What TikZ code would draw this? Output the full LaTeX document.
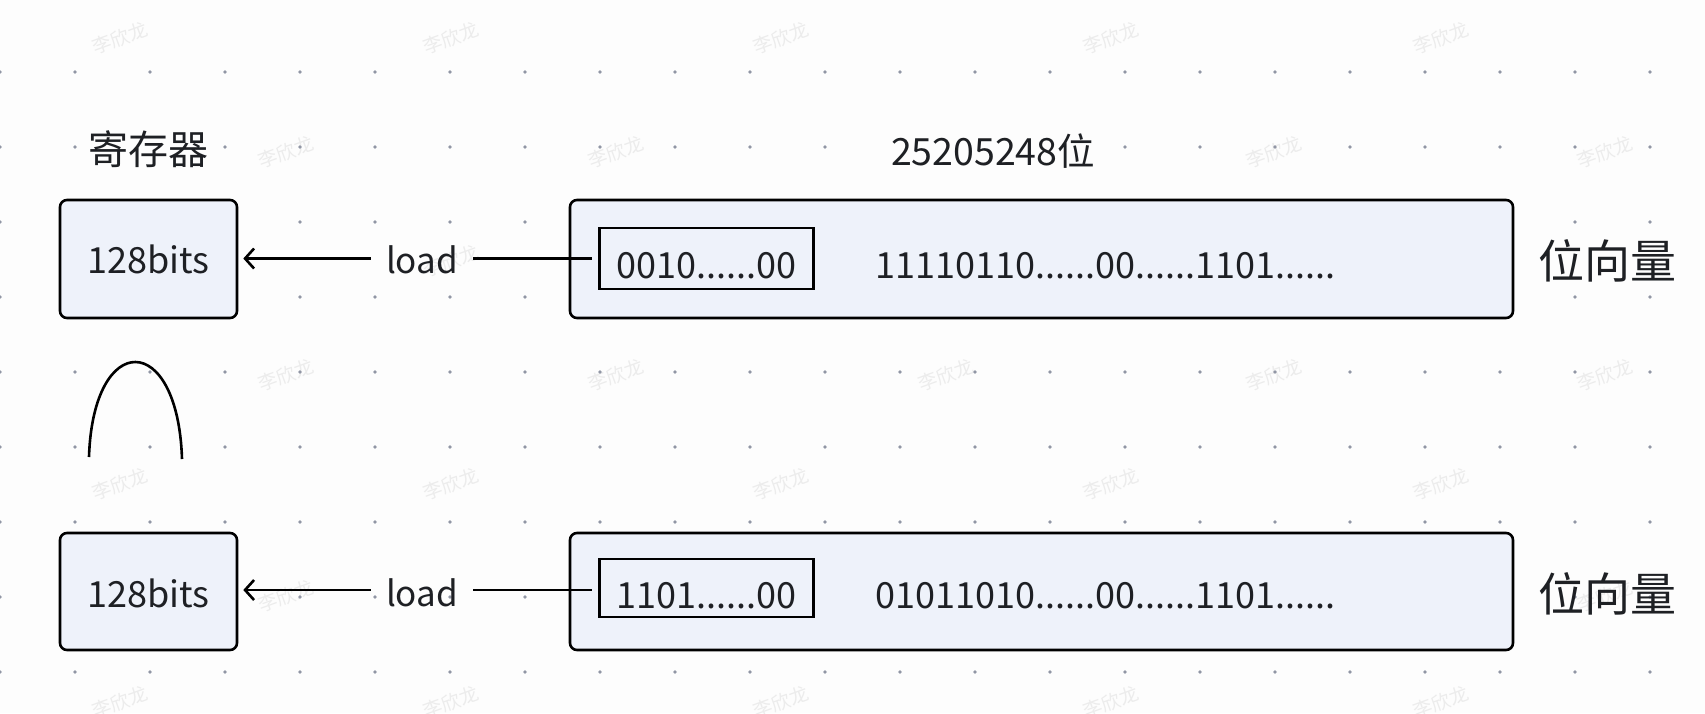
\documentclass[tikz,border=0pt]{standalone}
\usepackage{fontspec}
\setmainfont{Noto Sans CJK SC}
\usetikzlibrary{arrows.meta}
\definecolor{boxfill}{RGB}{238,242,250}
\definecolor{dotc}{RGB}{145,150,165}
\definecolor{wmc}{RGB}{236,236,236}
\definecolor{txt}{RGB}{30,32,36}
\definecolor{bg}{RGB}{253,253,253}
\begin{document}
\begin{tikzpicture}[x=1pt,y=-1pt,
  regbox/.style={draw=black, line width=2.6pt, fill=boxfill, rounded corners=7pt,
    minimum width=177pt, minimum height=117pt, inner sep=0pt},
  vecbox/.style={draw=black, line width=2.6pt, fill=boxfill, rounded corners=7pt,
    minimum width=943pt, minimum height=117pt, inner sep=0pt},
  segbox/.style={draw=black, line width=2.4pt, minimum width=214pt, inner sep=0pt},
  boxtext/.style={font=\fontsize{36}{40}\selectfont, text=txt, inner sep=0pt, anchor=base},
  bitstext/.style={font=\fontsize{36}{40}\selectfont, text=txt, inner sep=0pt, anchor=base west},
  loadlbl/.style={font=\fontsize{35}{40}\selectfont, text=txt, inner xsep=15pt, inner ysep=0pt, anchor=base},
  sidelbl/.style={font=\fontsize{46}{50}\selectfont, text=txt, inner sep=0pt},
  titlelbl/.style={text=txt, fill=bg, inner sep=4pt},
  conn/.style={line width=2.6pt, draw=black},
  wmark/.style={font=\fontsize{19}{20}\selectfont, text=wmc, rotate=20, inner sep=0pt}
]
\useasboundingbox (0,0) rectangle (1705,713);
\fill[bg] (0,0) rectangle (1705,713);

% watermarks
\foreach \yy [count=\r] in {38,152,261,375,484,596,702} {
  \ifodd\r
    \foreach \xx [count=\c] in {120,451,781,1111,1441} { \node[wmark] (wmA-\r-\c) at (\xx,\yy) {李欣龙}; }
  \else
    \foreach \xx [count=\c] in {286,616,946,1274,1605} { \node[wmark] (wmB-\r-\c) at (\xx,\yy) {李欣龙}; }
  \fi
}

% dot grid
\foreach \xx in {0,75,...,1700} {
  \foreach \yy in {72,147,...,680} {
    \fill[dotc] (\xx,\yy) circle (1.8pt);
  }
}

% titles
\node[titlelbl, font=\fontsize{40}{44}\selectfont] (t1) at (148,149) {寄存器};
\node[titlelbl, font=\fontsize{37.5}{42}\selectfont] (t2) at (993,151) {25205248位};

% row 1
\node[regbox, minimum height=118pt] (reg1) at (148.5,259) {};
\node[boxtext] (reg1t) at (148.5,273) {128bits};
\node[vecbox, minimum height=118pt] (vec1) at (1041.5,259) {};
\node[segbox, minimum height=61pt] (seg1) at (706.5,258.5) {};
\node[boxtext] (seg1t) at (706.5,278) {0010......00};
\node[bitstext] (bits1) at (875,278) {11110110......00......1101......};
\node[sidelbl] (side1) at (1607,261) {位向量};
\node[loadlbl] (load1) at (422,273) {load};
\coordinate (y1) at (0,258.5);
\draw[conn] (load1.east |- y1) -- ([xshift=-6pt]seg1.west |- y1);
\draw[conn, -{Straight Barb[length=9pt,width=20pt]}] (load1.west |- y1) -- ([xshift=5pt]reg1.east |- y1);

% arc
\coordinate (arcA) at (89,457);
\coordinate (arcB) at (182,459);
\draw[line width=2.6pt] (arcA) .. controls (93,330) and (178,330) .. (arcB);

% row 2
\node[regbox, minimum height=117pt] (reg2) at (148.5,591.5) {};
\node[boxtext] (reg2t) at (148.5,607) {128bits};
\node[vecbox, minimum height=117pt] (vec2) at (1041.5,591.5) {};
\node[segbox, minimum height=58pt] (seg2) at (706.5,588) {};
\node[boxtext] (seg2t) at (706.5,608) {1101......00};
\node[bitstext] (bits2) at (875,608) {01011010......00......1101......};
\node[sidelbl] (side2) at (1607,594) {位向量};
\node[loadlbl] (load2) at (422,606) {load};
\coordinate (y2) at (0,590);
\draw[conn] (load2.east |- y2) -- ([xshift=-6pt]seg2.west |- y2);
\draw[conn, -{Straight Barb[length=9pt,width=20pt]}] (load2.west |- y2) -- ([xshift=5pt]reg2.east |- y2);
\end{tikzpicture}
\end{document}
